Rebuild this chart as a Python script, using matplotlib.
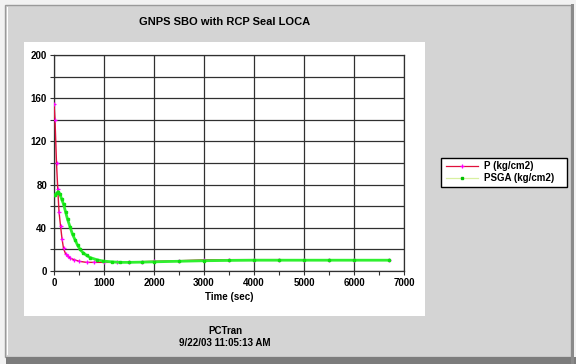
import matplotlib
matplotlib.use("Agg")
import matplotlib.pyplot as plt
from matplotlib.patches import Rectangle
from matplotlib.lines import Line2D

W, H = 576, 364

title = "GNPS SBO with RCP Seal LOCA"
xlabel = "Time (sec)"
footer = ["PCTran", "9/22/03 11:05:13 AM"]
legend_labels = ["P (kg/cm2)", "PSGA (kg/cm2)"]

t_p = [0, 20, 50, 75, 100, 130, 160, 190, 230, 270, 320, 400, 500, 650, 800, 1000,
       1250, 1500, 1750, 2000, 2500, 3000, 3500, 4000, 4500, 5000, 5500, 6000, 6700]
p = [155, 140, 100, 76, 55, 42, 30, 21, 16, 13.5, 12, 10.5, 9, 8, 8, 8,
     8, 8.2, 8.6, 9, 9.5, 10.3, 10.5, 10.5, 10.5, 10.3, 10.2, 10, 10]

t_s = [0, 20, 50, 87, 120, 150, 190, 230, 270, 320, 370, 420, 470, 520, 580, 650,
       720, 850, 980, 1150, 1320, 1500, 1750, 2000, 2500, 3000, 3500, 4000, 4500,
       5000, 5500, 6000, 6700]
psga = [70, 70, 72, 73.5, 71, 67, 62, 55, 48, 41, 34, 29, 24, 20, 17, 14.5,
        12.5, 10.5, 9.2, 8.5, 8, 8, 8.2, 8.5, 9, 9.5, 9.8, 10, 10,
        10, 10, 10, 10]

x_ticks = [0, 1000, 2000, 3000, 4000, 5000, 6000, 7000]
y_ticks = [0, 40, 80, 120, 160, 200]


def fx(px):
    return px / W


def fy(py):
    return 1 - py / H


def rect(fig, x0, y0, x1, y1, **kw):
    fig.add_artist(Rectangle((fx(x0), fy(y1)), fx(x1) - fx(x0), fy(y0) - fy(y1),
                             transform=fig.transFigure, **kw))


fig = plt.figure(figsize=(W / 100, H / 100), dpi=100)
fig.patch.set_facecolor("#f2f2f2")

# window frame
rect(fig, 5, 5, 571, 357, facecolor="#d4d4d4", edgecolor="#9a9a9a", lw=1.0, zorder=0)
rect(fig, 6, 357, 576, 364, facecolor="#7c7c7c", edgecolor="none", zorder=0)
rect(fig, 571, 4, 574, 364, facecolor="#8a8a8a", edgecolor="none", zorder=0)
rect(fig, 7, 7, 8, 355, facecolor="#ffffff", edgecolor="none", zorder=0)
# white chart panel
rect(fig, 24, 42, 425, 316, facecolor="white", edgecolor="none", zorder=0)

ax = fig.add_axes([fx(54), fy(271), fx(404) - fx(54), fy(55) - fy(271)])
ax.set_facecolor("white")
ax.set_zorder(2)

ax.plot(t_p, p, color="#e0103c", lw=1.0, marker="+", ms=3, mec="#ff00ff", mew=0.9, zorder=3)
ax.plot(t_s, psga, color="#30f030", lw=2.0, marker="s", ms=2, mec="#10e010", mfc="#10e010", zorder=4)

ax.set_xlim(0, 7000)
ax.set_ylim(0, 200)
ax.set_xticks(x_ticks)
ax.set_xticks(range(500, 7000, 1000), minor=True)
ax.set_yticks(y_ticks)
ax.set_yticks(range(20, 200, 40), minor=True)
ax.grid(True, which="major", color="#303030", lw=0.9)
ax.grid(True, which="minor", axis="y", color="#303030", lw=0.9)
for s in ax.spines.values():
    s.set_color("#303030")
    s.set_linewidth(0.9)
ax.tick_params(which="both", direction="out", length=3, width=0.8, color="#303030",
               labelsize=7, pad=2)
for lab in ax.get_xticklabels() + ax.get_yticklabels():
    lab.set_fontweight("bold")
    lab.set_fontfamily("Liberation Sans")

fig.text(fx(229), fy(297), xlabel, ha="center", va="center", fontsize=7,
         fontweight="bold", family="Liberation Sans")
fig.text(fx(225), fy(22), title, ha="center", va="center", fontsize=8,
         fontweight="bold", family="Liberation Sans")
fig.text(fx(225), fy(331), footer[0], ha="center", va="center", fontsize=7,
         fontweight="bold", family="Liberation Sans")
fig.text(fx(225), fy(343), footer[1], ha="center", va="center", fontsize=7,
         fontweight="bold", family="Liberation Sans")

# legend box
rect(fig, 441, 158, 567, 187, facecolor="white", edgecolor="black", lw=1.0, zorder=5)
fig.add_artist(Line2D([fx(446), fx(478)], [fy(166), fy(166)], color="#e0103c", lw=0.9,
                      transform=fig.transFigure, zorder=6))
fig.add_artist(Line2D([fx(462)], [fy(166)], marker="+", ms=3, mec="#ff00ff", mew=0.9,
                      transform=fig.transFigure, zorder=7))
fig.add_artist(Line2D([fx(446), fx(478)], [fy(178), fy(178)], color="#d8f0a0", lw=0.9,
                      transform=fig.transFigure, zorder=6))
fig.add_artist(Line2D([fx(462)], [fy(178)], marker="s", ms=2, mec="#00c000", mfc="#00c000",
                      transform=fig.transFigure, zorder=7))
fig.text(fx(484), fy(166), legend_labels[0], ha="left", va="center", fontsize=7,
         fontweight="bold", family="Liberation Sans", zorder=7)
fig.text(fx(484), fy(178), legend_labels[1], ha="left", va="center", fontsize=7,
         fontweight="bold", family="Liberation Sans", zorder=7)

fig.savefig("out.png", dpi=100, facecolor=fig.get_facecolor())
